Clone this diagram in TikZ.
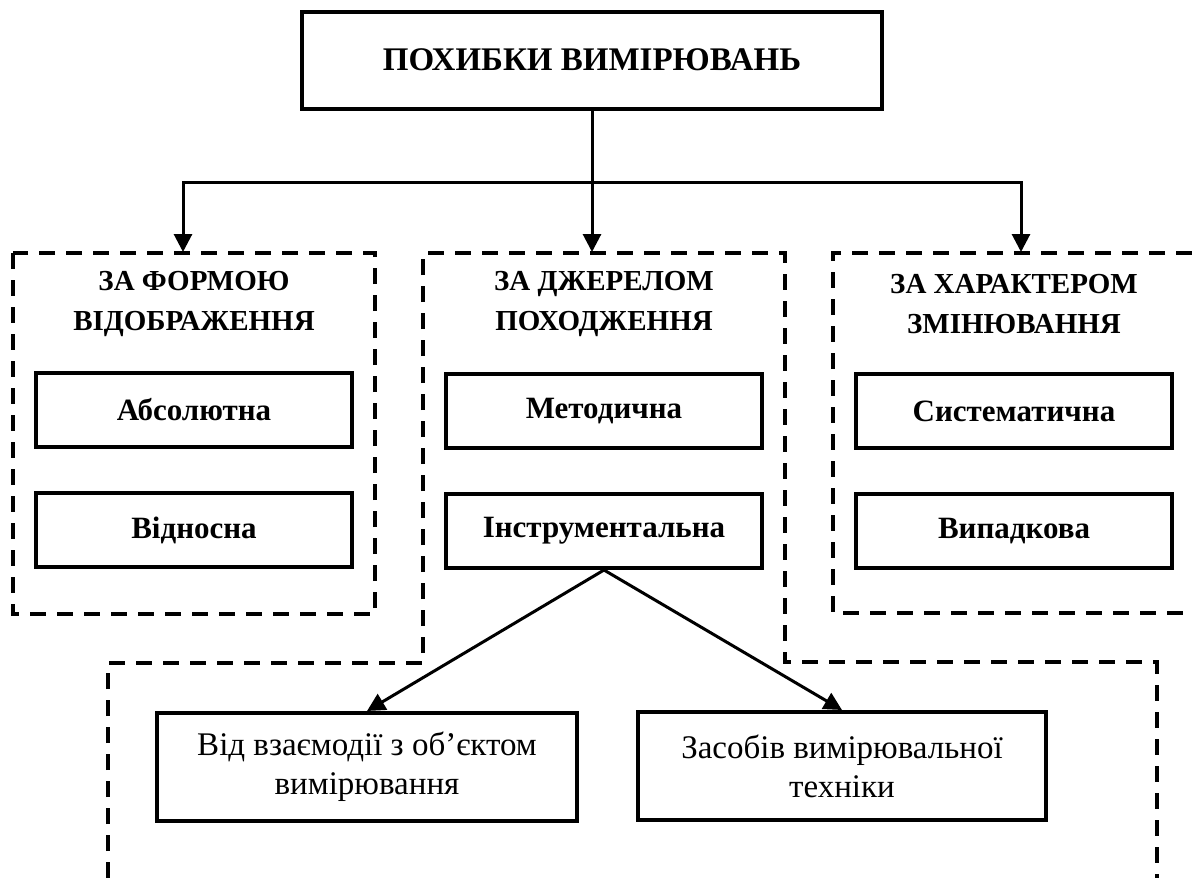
\documentclass[tikz,border=0pt]{standalone}
\usepackage{fontspec}
\setmainfont{Liberation Serif}
\usetikzlibrary{arrows.meta}

\begin{document}
\begin{tikzpicture}[x=1pt,y=-1pt,
  box/.style={draw=black,line width=4pt,align=center,inner sep=0pt},
  grp/.style={draw=black,line width=4pt,dash pattern=on 16pt off 11pt},
  arr/.style={line width=3pt,-{Triangle[width=18pt,length=18pt]}},
  head/.style={align=center,font=\fontsize{29}{40}\selectfont\bfseries}]
\useasboundingbox (0,0) rectangle (1192,878);

% define the title box
\node[box,minimum width=580pt,minimum height=97pt,font=\fontsize{33}{38}\selectfont\bfseries] (title) at (592,60) {ПОХИБКИ ВИМІРЮВАНЬ};

% define dashed groups
\draw[grp] (13,253) rectangle (375,614);
\draw[grp] (108,878) -- (108,663) -- (423,663) -- (423,253) -- (785,253) -- (785,662) -- (1157,662) -- (1157,878);
\draw[grp] (1192,253) -- (833,253) -- (833,613) -- (1192,613);

% group headings
\node[head] (form) at (194,304) {ЗА ФОРМОЮ\\ВІДОБРАЖЕННЯ};
\node[head] (source) at (604,304) {ЗА ДЖЕРЕЛОМ\\ПОХОДЖЕННЯ};
\node[head] (nature) at (1014,304) {ЗА ХАРАКТЕРОМ\\ЗМІНЮВАННЯ};

% inner boxes
\tikzset{kind/.style={box,minimum width=316pt,minimum height=74pt,font=\fontsize{31}{36}\selectfont\bfseries}}
\node[kind] (abs) at (194,410) {Абсолютна};
\node[kind] (rel) at (194,530) {Відносна};
\node[kind] (meth) at (604,411) {Методична};
\node[kind] (instr) at (604,531) {Інструментальна};
\node[kind] (syst) at (1014,411) {Систематична};
\node[kind] (rand) at (1014,531) {Випадкова};

% lower boxes
\tikzset{sub/.style={box,minimum height=108pt,font=\fontsize{33}{39}\selectfont}}
\node[sub,minimum width=420pt] (inter) at (367,767) {Від взаємодії з об’єктом\\вимірювання};
\node[sub,minimum width=408pt] (means) at (842,766) {Засобів вимірювальної\\техніки};

% connectors
\coordinate (jn) at (592,182);
\coordinate (t1) at (183,252);
\coordinate (t2) at (592,252);
\coordinate (t3) at (1021,252);
\draw[line width=3pt] (title.south) -- (jn);
\draw[arr] (jn) -| (t1);
\draw[arr] (jn) -- (t2);
\draw[arr] (jn) -| (t3);
\draw[arr] (instr.south) -- (inter.north);
\draw[arr] (instr.south) -- (means.north);

\end{tikzpicture}
\end{document}
